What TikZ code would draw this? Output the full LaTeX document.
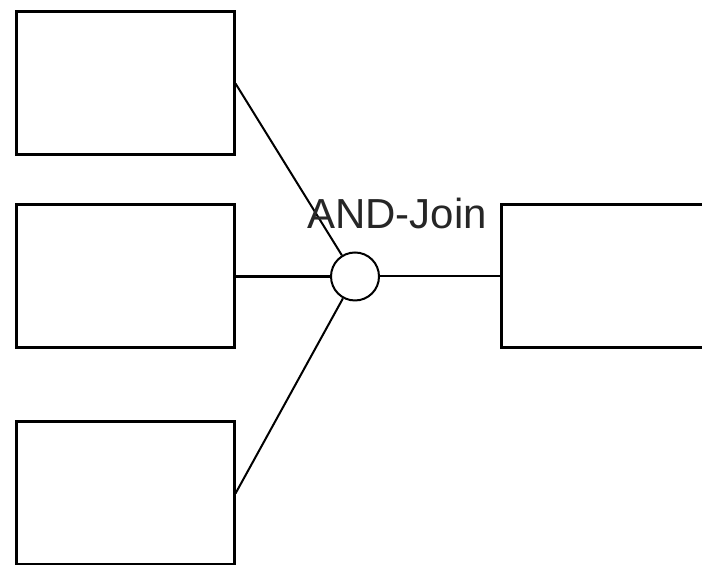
\documentclass[tikz,border=0pt]{standalone}
\usepackage{fontspec}
\setmainfont{Liberation Sans}
\usepackage{tikz}

\tikzset{
	task/.style={draw, line width=1.5pt, minimum width=109pt, minimum height=71.5pt, inner sep=0pt},
	gate/.style={draw, circle, line width=1pt, minimum size=24pt, inner sep=0pt},
	flow/.style={line width=1pt}
}

\begin{document}
\begin{tikzpicture}[x=0.5pt, y=-0.5pt]
			\useasboundingbox (0,0) rectangle (702,565);
			\node[task] (task1) at (125,83.5) {};
			\node[task] (task2) at (125,276.5) {};
			\node[task] (task3) at (125,493.5) {};
			\node[task] (task4) at (610,276.5) {};
			\node[gate] (join) at (355,276.5) {};
			\draw[flow] (task1.east) -- (join);
			\draw[flow, line width=1.4pt] (task2.east) -- (join);
			\draw[flow] (task3.east) -- (join);
			\draw[flow] (join) -- (task4.west);
			\node[anchor=base, text=black!85, font=\fontsize{21}{25}\selectfont, inner sep=0pt] (joinlabel) at (397,229) {AND-Join};
	\end{tikzpicture}
\end{document}
